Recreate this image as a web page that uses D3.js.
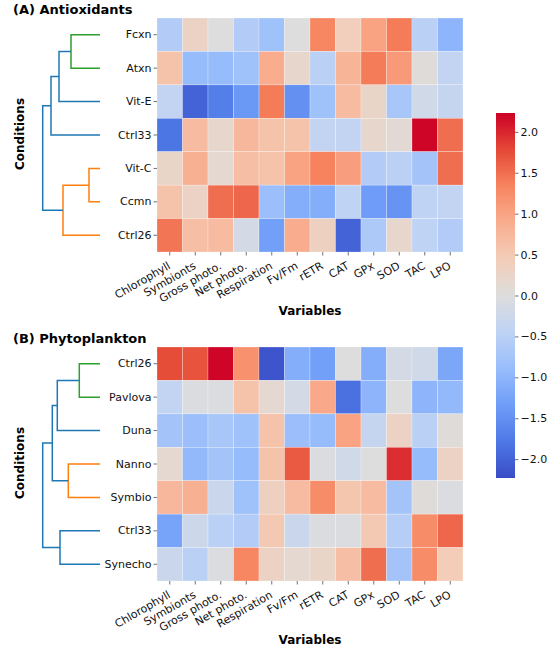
<!DOCTYPE html>
<html>
<head>
<meta charset="utf-8">
<script src="https://cdn.jsdelivr.net/npm/d3@7"></script>
<style>
  body { margin: 0; background: #fff; }
  text { font-family: "DejaVu Sans", sans-serif; }
</style>
</head>
<body>
<div id="chart"></div>
<script>
// Heatmap data (z-scored values)
const variables = ['Chlorophyll', 'Symbionts', 'Gross photo.', 'Net photo.', 'Respiration',
  'Fv/Fm', 'rETR', 'CAT', 'GPx', 'SOD', 'TAC', 'LPO'];

const antioxRows = ['Fcxn', 'Atxn', 'Vit-E', 'Ctrl33', 'Vit-C', 'Ccmn', 'Ctrl26'];
const antioxValues = [
  [-0.6, 0.3, 0.0, -0.6, -0.8, 0.0, 1.3, 0.4, 1.0, 1.4, -0.5, -1.0],
  [0.6, -0.9, -0.9, -0.8, 0.9, 0.2, -0.5, 0.8, 1.4, 1.1, 0.05, -0.4],
  [-0.4, -2.0, -1.7, -1.4, 1.4, -1.5, -0.8, 0.7, 0.25, -0.7, -0.2, -0.35],
  [-1.8, 0.7, 0.2, 0.75, 0.6, 0.6, -0.4, -0.4, 0.2, 0.1, 2.2, 1.5],
  [0.25, 0.85, 0.15, 0.65, 0.6, 1.0, 1.35, 1.05, -0.6, -0.5, -0.75, 1.5],
  [0.6, 0.3, 1.5, 1.55, -0.85, -1.1, -1.1, -0.45, -1.35, -1.45, -0.45, -0.4],
  [1.45, 0.65, 0.7, -0.15, -1.3, 0.9, 0.35, -2.0, -0.65, 0.2, -0.45, -0.6]
];

const phytoRows = ['Ctrl26', 'Pavlova', 'Duna', 'Nanno', 'Symbio', 'Ctrl33', 'Synecho'];
const phytoValues = [
  [1.75, 1.7, 2.2, 1.2, -2.15, -1.1, -1.3, 0.0, -1.1, -0.15, -0.2, -1.2],
  [-0.4, -0.05, -0.05, 0.6, 0.15, -0.15, 0.95, -1.85, -1.0, 0.0, -1.0, -0.95],
  [-0.75, -0.85, -0.7, -0.8, 0.6, -0.85, -0.9, 1.0, -0.35, 0.3, -0.5, 0.05],
  [0.15, -0.95, -0.75, -0.9, 0.6, 1.65, -0.05, -0.2, 0.0, 1.95, -0.9, 0.3],
  [0.75, 0.85, -0.3, -0.8, 0.35, 0.7, 1.25, 0.55, 0.7, -0.75, 0.05, -0.05],
  [-1.25, -0.25, -0.5, -0.6, 0.5, -0.3, -0.05, -0.05, 0.5, -0.55, 1.25, 1.55],
  [-0.3, -0.5, -0.05, 1.3, 0.3, 0.15, 0.25, 0.65, 1.5, -0.75, 1.25, 0.45]
];

// Dendrogram merges: [id, left child, right child, distance, cluster colour]
const antioxLinks = [
  ['a1', 'Fcxn', 'Atxn', 2.9, 'green'],
  ['a2', 'a1', 'Vit-E', 4.1, 'blue'],
  ['a3', 'a2', 'Ctrl33', 4.9, 'blue'],
  ['a4', 'Vit-C', 'Ccmn', 1.1, 'orange'],
  ['a5', 'a4', 'Ctrl26', 3.7, 'orange'],
  ['a6', 'a3', 'a5', 5.73, 'blue']
];
const phytoLinks = [
  ['p1', 'Ctrl26', 'Pavlova', 2.07, 'green'],
  ['p2', 'p1', 'Duna', 4.27, 'blue'],
  ['p3', 'Nanno', 'Symbio', 3.17, 'orange'],
  ['p4', 'p2', 'p3', 4.77, 'blue'],
  ['p5', 'Ctrl33', 'Synecho', 4.0, 'blue'],
  ['p6', 'p4', 'p5', 5.73, 'blue']
];

const colorbarTicks = [-2, -1.5, -1, -0.5, 0, 0.5, 1, 1.5, 2];
const vmin = -2.23, vmax = 2.23;

const linkColors = {blue: '#1f77b4', orange: '#ff7f0e', green: '#2ca02c'};

// coolwarm-like diverging palette
const cwStops = ['#3a4cc6', '#4e78e6', '#6f9df8', '#98bdfc', '#bfd3f4', '#dddddd',
  '#f3cdb8', '#f9ad8f', '#f7845f', '#e54836', '#cc0026'];
const cwInterp = d3.piecewise(d3.interpolateRgb, cwStops);
const color = d3.scaleSequential(cwInterp).domain([vmin, vmax]);

const W = 550, H = 654;
const svg = d3.select('#chart').append('svg')
  .attr('width', W)
  .attr('height', H);

const x = d3.scaleBand().domain(variables).range([157, 463]);

function drawPanel(title, rows, values, links, top) {
  const bottom = top + 234;
  const y = d3.scaleBand().domain(rows).range([top, bottom]);
  const g = svg.append('g');

  // title
  g.append('text')
    .attr('x', 13).attr('y', top - 4)
    .attr('font-size', '13px').attr('font-weight', 'bold')
    .text(title);

  // cells
  values.forEach((row, i) => {
    g.selectAll(null)
      .data(row)
      .enter()
      .append('rect')
      .attr('x', (d, j) => x(variables[j]))
      .attr('y', y(rows[i]))
      .attr('width', x.bandwidth())
      .attr('height', y.bandwidth())
      .attr('fill', d => color(d))
      .attr('stroke', '#fff')
      .attr('stroke-opacity', 0.5)
      .attr('stroke-width', 0.5);
  });

  // axes
  const yAxis = d3.axisLeft(y).tickSize(3.5).tickPadding(2);
  const yAxisGroup = g.append('g').attr('transform', 'translate(157,0)').call(yAxis);
  yAxisGroup.select('.domain').remove();
  yAxisGroup.selectAll('text').attr('font-size', '11px').attr('fill', '#111');
  yAxisGroup.selectAll('line').attr('stroke', '#333').attr('stroke-width', 0.7);

  const xAxis = d3.axisBottom(x).tickSize(3.5).tickPadding(2);
  const xAxisGroup = g.append('g').attr('transform', `translate(0, ${bottom})`).call(xAxis);
  xAxisGroup.select('.domain').remove();
  xAxisGroup.selectAll('line').attr('stroke', '#333').attr('stroke-width', 0.7);
  xAxisGroup.selectAll('text')
    .attr('font-size', '11px').attr('fill', '#111')
    .attr('text-anchor', 'end')
    .attr('dy', null)
    .attr('y', 0)
    .attr('transform', 'translate(1.5, 16) rotate(-30)');

  g.append('text')
    .attr('x', 310).attr('y', bottom + 63)
    .attr('text-anchor', 'middle')
    .attr('font-size', '12px').attr('font-weight', 'bold')
    .text('Variables');

  g.append('text')
    .attr('transform', `translate(24, ${(top + bottom) / 2 - 1}) rotate(-90)`)
    .attr('text-anchor', 'middle')
    .attr('font-size', '12px').attr('font-weight', 'bold')
    .text('Conditions');

  // dendrogram
  const maxH = d3.max(links, d => d[3]);
  const dx = d3.scaleLinear().domain([0, maxH]).range([100, 42.7]);
  const pos = {};
  rows.forEach(r => { pos[r] = {y: y(r) + y.bandwidth() / 2, h: 0}; });
  links.forEach(([id, a, b, h, c]) => {
    const pa = pos[a], pb = pos[b];
    pos[id] = {y: (pa.y + pb.y) / 2, h: h};
    const path = d3.path();
    path.moveTo(dx(pa.h), pa.y);
    path.lineTo(dx(h), pa.y);
    path.lineTo(dx(h), pb.y);
    path.lineTo(dx(pb.h), pb.y);
    g.append('path')
      .attr('d', path.toString())
      .attr('fill', 'none')
      .attr('stroke', linkColors[c])
      .attr('stroke-width', 1.5);
  });
}

drawPanel('(A) Antioxidants', antioxRows, antioxValues, antioxLinks, 18);
drawPanel('(B) Phytoplankton', phytoRows, phytoValues, phytoLinks, 347);

// colorbar
const cbY = d3.scaleLinear().domain([vmin, vmax]).range([478, 113]);
const defs = svg.append('defs');
const grad = defs.append('linearGradient')
  .attr('id', 'cbGrad')
  .attr('x1', 0).attr('y1', 1).attr('x2', 0).attr('y2', 0);
d3.range(0, 1.0001, 0.05).forEach(t => {
  grad.append('stop').attr('offset', t).attr('stop-color', cwInterp(t));
});
svg.append('rect')
  .attr('x', 496).attr('y', 113)
  .attr('width', 19).attr('height', 365)
  .attr('fill', 'url(#cbGrad)');
const cbAxis = d3.axisRight(cbY).tickValues(colorbarTicks).tickSize(3.5).tickPadding(2)
  .tickFormat(d3.format('.1f'));
const cbGroup = svg.append('g').attr('transform', 'translate(515,0)').call(cbAxis);
cbGroup.select('.domain').remove();
cbGroup.selectAll('text').attr('font-size', '11px').attr('fill', '#111');
cbGroup.selectAll('line').attr('stroke', '#333').attr('stroke-width', 0.7);
</script>
</body>
</html>
